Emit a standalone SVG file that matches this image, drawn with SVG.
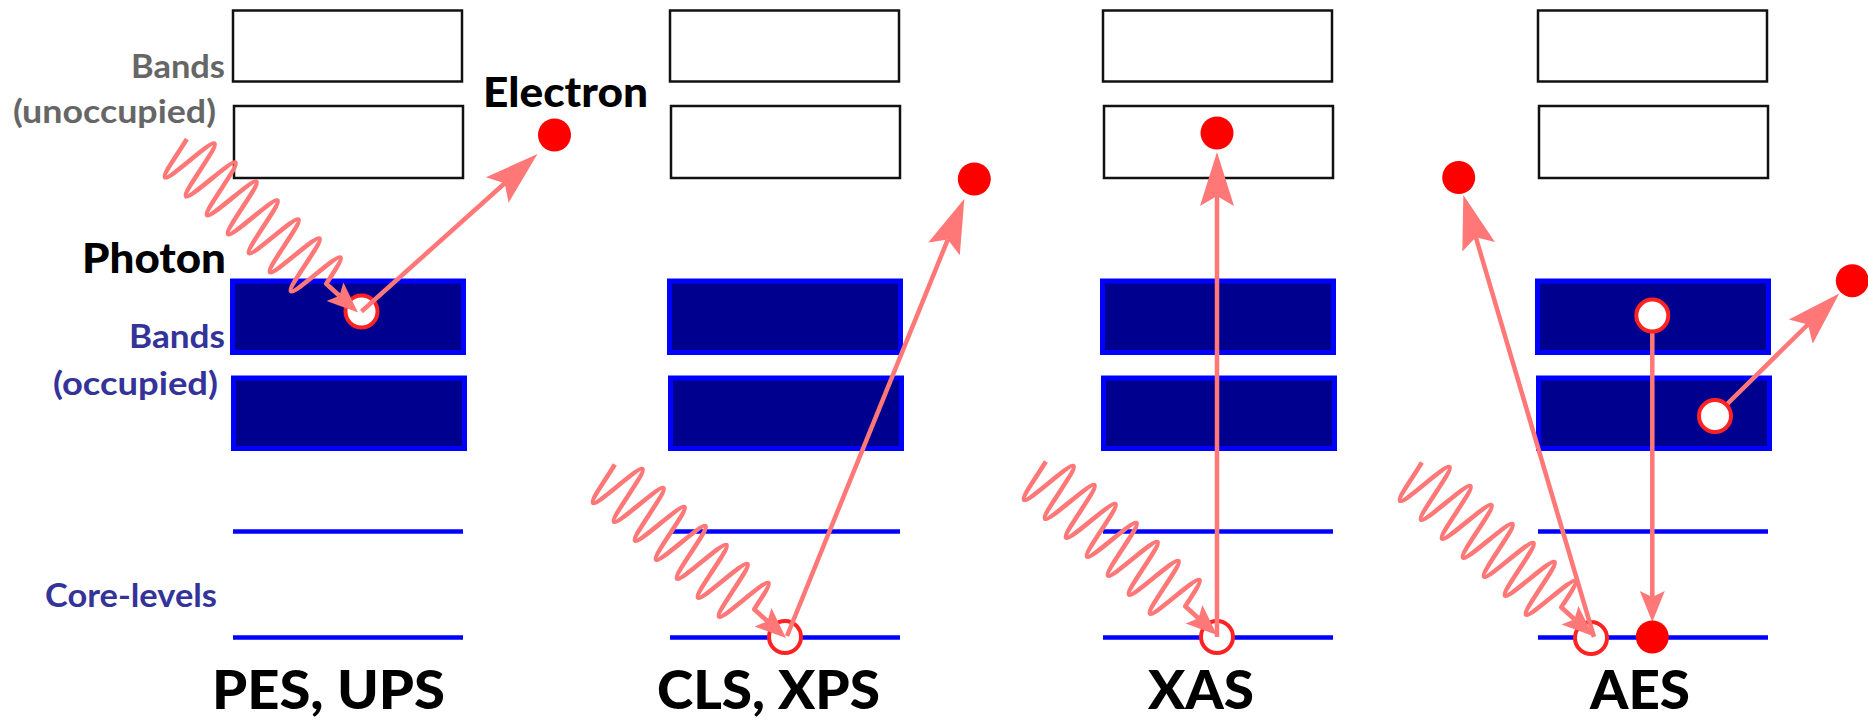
<svg xmlns="http://www.w3.org/2000/svg" xmlns:xlink="http://www.w3.org/1999/xlink" width="1868" height="721" viewBox="0 0 1868 721">
  <style>
    text { font-family: Lato, "Liberation Sans", sans-serif; font-weight: 700; }
    .lbl { font-size: 32px; }
    .grey { fill: #666666; }
    .navy { fill: #333399; }
    .big { font-size: 41px; fill: #000000; font-weight: 900; }
    .title { font-size: 54px; fill: #000000; font-weight: 900; }
    .empty { fill: #ffffff; stroke: #111111; stroke-width: 2.5; }
    .filled { fill: #00008f; stroke: #0000ff; stroke-width: 5; }
    .core { stroke: #0000ff; stroke-width: 4.5; }
    .ray { fill: none; stroke: #ff7777; stroke-width: 4.6; stroke-linejoin: round; }
    .arrow { fill: none; stroke: #ff7777; stroke-width: 4.5; }
    .hole { fill: #ffffff; stroke: #ff2222; stroke-width: 4; }
    .electron { fill: #ff0000; }
  </style>
  <defs>
    <!-- swept arrowheads; the line ends at the notch -->
    <marker id="head-lg" markerUnits="userSpaceOnUse" viewBox="0 -20 60 40" markerWidth="60" markerHeight="40" refX="10" refY="0" orient="auto">
      <path d="M0,-17 L54,0 L0,17 L10,0 Z" fill="#ff7777"/>
    </marker>
    <marker id="head-sm" markerUnits="userSpaceOnUse" viewBox="0 -15 36 30" markerWidth="36" markerHeight="30" refX="6" refY="0" orient="auto">
      <path d="M0,-12.5 L31,0 L0,12.5 L6,0 Z" fill="#ff7777"/>
    </marker>
    <!-- energy levels of one column: two empty bands, two filled bands, two core levels -->
    <g id="levels">
      <rect class="empty" x="233" y="10.5" width="229" height="71"/>
      <rect class="empty" x="234" y="106" width="229" height="72"/>
      <rect class="filled" x="232.5" y="281" width="231" height="71.5"/>
      <rect class="filled" x="233.5" y="378" width="231" height="70.5"/>
      <line class="core" x1="233" y1="531.5" x2="463" y2="531.5"/>
      <line class="core" x1="233" y1="637.5" x2="463" y2="637.5"/>
    </g>
    <!-- incoming photon: sine wave along the local x axis, tip at x=248 -->
    <path id="photon" class="ray" marker-end="url(#head-sm)" d="M4.8,-13.9 L7.075,0
      c2.307,14.86 4.514,29 7.075,29 c2.561,0 4.768,-14.14 7.075,-29 c2.307,-14.86 4.514,-29 7.075,-29 c2.561,0 4.768,14.14 7.075,29
      c2.307,14.86 4.514,29 7.075,29 c2.561,0 4.768,-14.14 7.075,-29 c2.307,-14.86 4.514,-29 7.075,-29 c2.561,0 4.768,14.14 7.075,29
      c2.307,14.86 4.514,29 7.075,29 c2.561,0 4.768,-14.14 7.075,-29 c2.307,-14.86 4.514,-29 7.075,-29 c2.561,0 4.768,14.14 7.075,29
      c2.307,14.86 4.514,29 7.075,29 c2.561,0 4.768,-14.14 7.075,-29 c2.307,-14.86 4.514,-29 7.075,-29 c2.561,0 4.768,14.14 7.075,29
      c2.307,14.86 4.514,29 7.075,29 c2.561,0 4.768,-14.14 7.075,-29 c2.307,-14.86 4.514,-29 7.075,-29 c2.561,0 4.768,14.14 7.075,29
      c2.307,14.86 4.514,29 7.075,29 c2.561,0 4.768,-14.14 7.075,-29 c2.307,-14.86 4.514,-29 7.075,-29 c2.561,0 4.768,14.14 7.075,29
      c2.307,14.86 4.514,29 7.075,29 c2.561,0 4.768,-14.14 7.075,-29 c2.307,-14.86 4.514,-29 7.075,-29 c2.561,0 4.768,14.14 7.075,29
      L223,0"/>
  </defs>

  <rect width="1868" height="721" fill="#ffffff"/>

  <!-- level names on the left -->
  <g id="level-names">
    <text class="lbl grey" x="131" y="78" textLength="94" lengthAdjust="spacingAndGlyphs">Bands</text>
    <text class="lbl grey" x="13" y="123" textLength="203" lengthAdjust="spacingAndGlyphs">(unoccupied)</text>
    <text class="lbl navy" x="129" y="348" textLength="96" lengthAdjust="spacingAndGlyphs">Bands</text>
    <text class="lbl navy" x="53" y="395" textLength="165" lengthAdjust="spacingAndGlyphs">(occupied)</text>
    <text class="lbl navy" x="45" y="607" textLength="172" lengthAdjust="spacingAndGlyphs">Core-levels</text>
  </g>
  <g id="photon-label">
    <text class="big" x="82" y="273" textLength="144" lengthAdjust="spacingAndGlyphs">Photon</text>
  </g>
  <g id="electron-label">
    <text class="big" x="483" y="107" textLength="165" lengthAdjust="spacingAndGlyphs">Electron</text>
  </g>

  <!-- the four spectroscopies -->
  <g id="pes">
    <use href="#levels"/>
    <text class="title" x="212" y="709" textLength="233" lengthAdjust="spacingAndGlyphs">PES, UPS</text>
  </g>
  <g id="cls">
    <use href="#levels" x="437"/>
    <text class="title" x="657" y="709" textLength="223" lengthAdjust="spacingAndGlyphs">CLS, XPS</text>
  </g>
  <g id="xas">
    <use href="#levels" x="870"/>
    <text class="title" x="1148" y="709" textLength="106" lengthAdjust="spacingAndGlyphs">XAS</text>
  </g>
  <g id="aes">
    <use href="#levels" x="1305"/>
    <text class="title" x="1590" y="709" textLength="100" lengthAdjust="spacingAndGlyphs">AES</text>
  </g>

  <!-- holes left by the absorbed photon -->
  <g id="primary-holes">
    <circle class="hole" cx="361.5" cy="311.5" r="16"/>
    <circle class="hole" cx="785" cy="637" r="16"/>
    <circle class="hole" cx="1217" cy="637" r="16"/>
    <circle class="hole" cx="1591" cy="638" r="16"/>
  </g>

  <g id="connectors">
    <use href="#photon" transform="translate(174,146.2) rotate(42.1)"/>
    <use href="#photon" transform="translate(602,471.7) rotate(42.1)"/>
    <use href="#photon" transform="translate(1033,468.7) rotate(42.1)"/>
    <use href="#photon" transform="translate(1409,469.7) rotate(42.1)"/>
    <line class="arrow" marker-end="url(#head-lg)" x1="361.5" y1="311.5" x2="504.7" y2="183.3"/>
    <line class="arrow" marker-end="url(#head-lg)" x1="787" y1="636" x2="947.8" y2="239.6"/>
    <line class="arrow" marker-end="url(#head-lg)" x1="1217" y1="637" x2="1217" y2="196"/>
    <line class="arrow" marker-end="url(#head-lg)" x1="1594" y1="637" x2="1475.8" y2="237.2"/>
    <line class="arrow" marker-end="url(#head-sm)" x1="1652.3" y1="316" x2="1652.3" y2="597"/>
    <line class="arrow" marker-end="url(#head-lg)" x1="1715" y1="416" x2="1807.9" y2="324.5"/>
  </g>

  <g id="electrons">
    <circle class="electron" cx="554.5" cy="135" r="16.5"/>
    <circle class="electron" cx="974.3" cy="179" r="16.5"/>
    <circle class="electron" cx="1217" cy="133" r="16.5"/>
    <circle class="electron" cx="1458.7" cy="177.5" r="16.5"/>
    <circle class="electron" cx="1852.3" cy="280.7" r="16.5"/>
    <circle class="electron" cx="1652.3" cy="637" r="16.5"/>
  </g>

  <!-- Auger process: valence holes -->
  <g id="auger-holes">
    <circle class="hole" cx="1652.3" cy="315.6" r="16"/>
    <circle class="hole" cx="1715" cy="416" r="16"/>
  </g>
</svg>
